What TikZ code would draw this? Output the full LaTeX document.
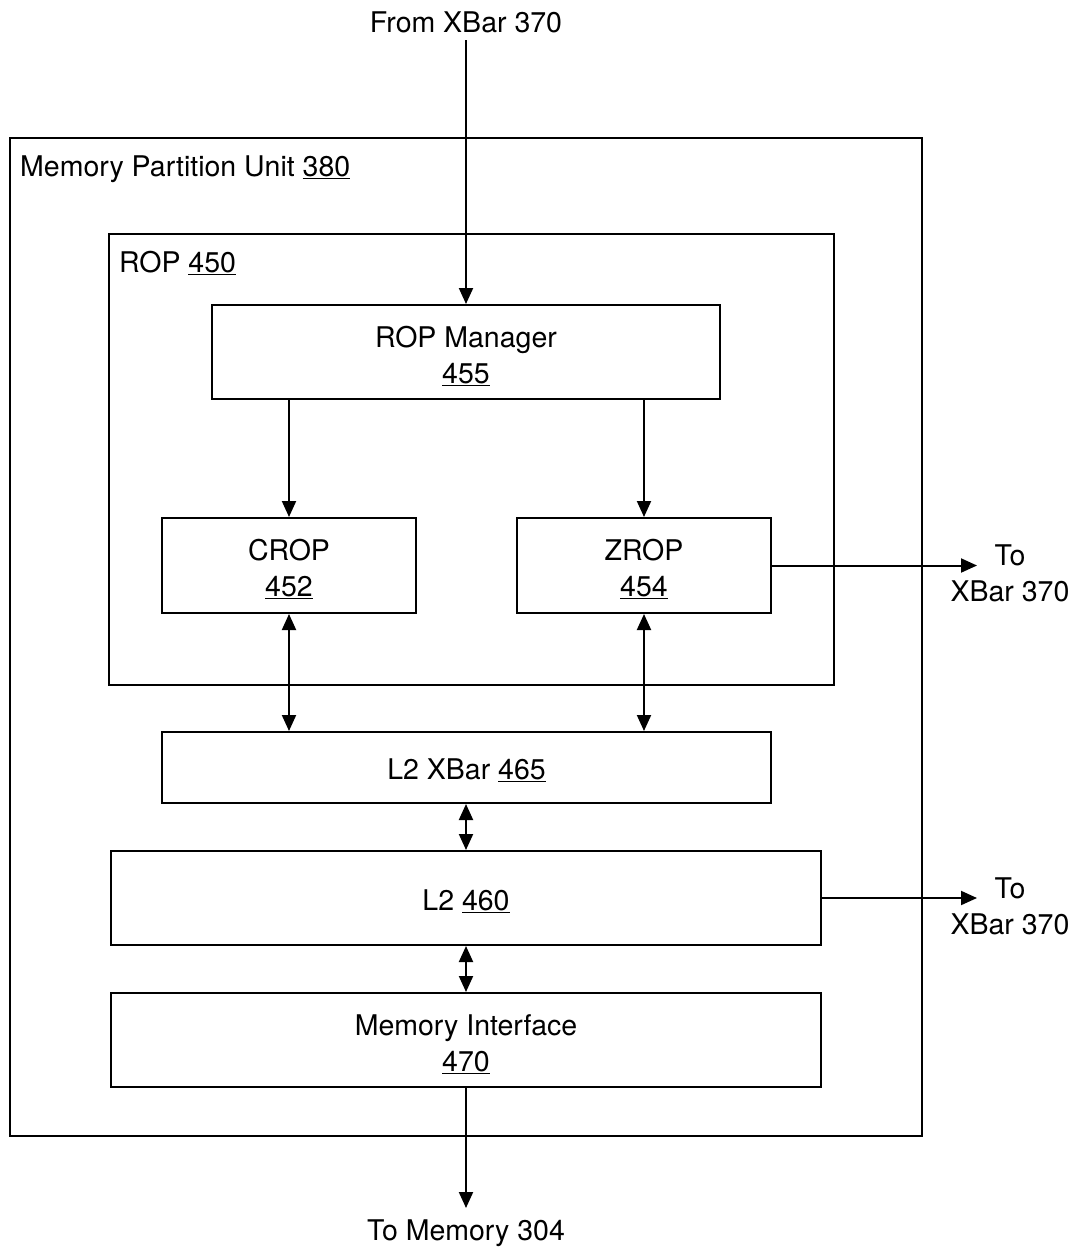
\documentclass[tikz,border=0pt]{standalone}
\usepackage{fontspec}
\setmainfont{TeX Gyre Heros}
\usetikzlibrary{arrows.meta}
\begin{document}
\begin{tikzpicture}[x=1pt,y=-1pt,
  every node/.style={font=\fontsize{28.5}{36}\selectfont},
  box/.style={draw,line width=2pt,inner sep=0pt,align=center},
  btxt/.style={inner sep=0pt,align=center},
  lbl/.style={inner sep=0pt,align=center},
  conn/.style={line width=2pt,-{Triangle[length=16pt,width=14pt]}},
  dconn/.style={line width=2pt,{Triangle[length=16pt,width=14pt]}-{Triangle[length=16pt,width=14pt]}}]
\useasboundingbox (0,0) rectangle (1076,1251);

% enclosing frames
\node[box,minimum width=912pt,minimum height=998pt] (mpu) at (466,637) {};
\node[lbl,anchor=base west] (mpulbl) at (20,176) {Memory Partition Unit \underline{380}};
\node[box,minimum width=725pt,minimum height=451pt] (rop) at (471.5,459.5) {};
\node[lbl,anchor=base west] (roplbl) at (119,272) {ROP \underline{450}};

% functional blocks
\node[box,minimum width=508pt,minimum height=94pt] (mgr) at (466,352) {};
\node[btxt] (mgrt) at (466,356) {ROP Manager\\\underline{455}};
\node[box,minimum width=254pt,minimum height=95pt] (crop) at (289,565.5) {};
\node[btxt] (cropt) at (289,569) {CROP\\\underline{452}};
\node[box,minimum width=254pt,minimum height=95pt] (zrop) at (644,565.5) {};
\node[btxt] (zropt) at (644,569) {ZROP\\\underline{454}};
\node[box,minimum width=609pt,minimum height=71pt] (l2x) at (466.5,767.5) {};
\node[btxt] (l2xt) at (466.5,770.5) {L2 XBar \underline{465}};
\node[box,minimum width=710pt,minimum height=94pt] (l2) at (466,898) {};
\node[btxt] (l2t) at (466,901) {L2 \underline{460}};
\node[box,minimum width=710pt,minimum height=94pt] (mif) at (466,1040) {};
\node[btxt] (mift) at (466,1044) {Memory Interface\\\underline{470}};

% external endpoints
\node[lbl] (fromx) at (466,22) {From XBar 370};
\coordinate (in) at (466,40);
\node[lbl] (tox1) at (1010,573) {To\\XBar 370};
\coordinate (out1) at (977,565.5);
\node[lbl] (tox2) at (1010,906) {To\\XBar 370};
\coordinate (out2) at (977,898);
\node[lbl] (tomem) at (466,1233) {To Memory 304};
\coordinate (outm) at (466,1208);

% connectors
\draw[conn] (in) -- (mgr.north);
\draw[conn] (mgr.south -| crop.north) -- (crop.north);
\draw[conn] (mgr.south -| zrop.north) -- (zrop.north);
\draw[conn] (zrop.east) -- (out1);
\draw[dconn] (crop.south) -- (crop.south |- l2x.north);
\draw[dconn] (zrop.south) -- (zrop.south |- l2x.north);
\draw[dconn] (l2x.south -| l2.north) -- (l2.north);
\draw[conn] (l2.east) -- (out2);
\draw[dconn] (l2.south) -- (mif.north);
\draw[conn] (mif.south) -- (outm);
\end{tikzpicture}
\end{document}
